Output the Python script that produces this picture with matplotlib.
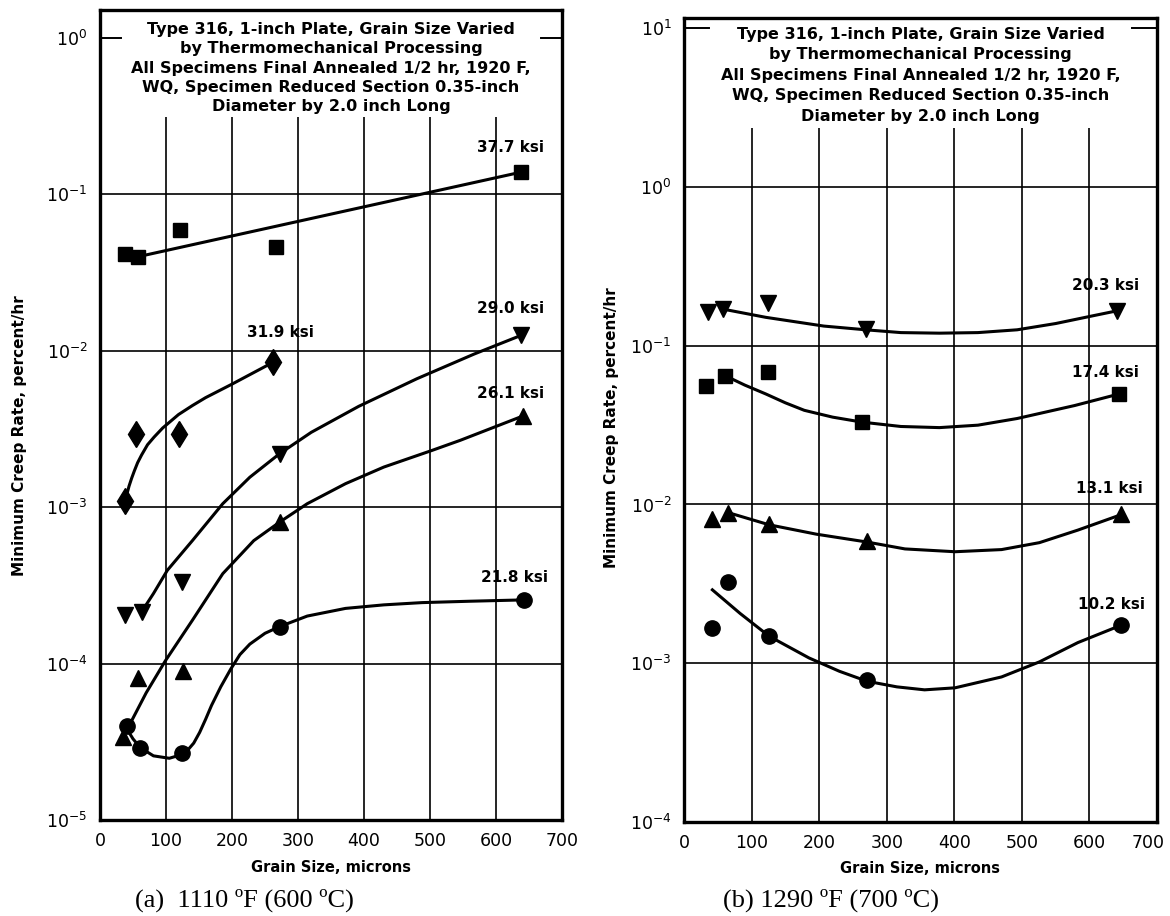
import numpy as np
import matplotlib
matplotlib.use("Agg")
import matplotlib.pyplot as plt
from matplotlib.transforms import blended_transform_factory, ScaledTranslation

# ---------------- data ----------------
x_grid = [100, 200, 300, 400, 500, 600]
x_ticks = [0, 100, 200, 300, 400, 500, 600, 700]

title_text = ("Type 316, 1-inch Plate, Grain Size Varied\n"
              "by Thermomechanical Processing\n"
              "All Specimens Final Annealed 1/2 hr, 1920 F,\n"
              "WQ, Specimen Reduced Section 0.35-inch\n"
              "Diameter by 2.0 inch Long")

# Panel (a) 1110 F (600 C)
a_377_x = [38, 58, 121, 266, 638]
a_377_y = [0.0414, 0.0398, 0.059, 0.0461, 0.138]
a_377_fx = [58, 638]
a_377_fy = [0.0398, 0.138]

a_319_x = [38, 55, 120, 262]
a_319_y = [1.1e-3, 2.95e-3, 2.95e-3, 8.4e-3]
a_319_fx = [38, 41, 44, 48, 52, 57, 63, 72, 82, 95, 119, 140, 160, 200,
            240, 262]
a_319_fy = [1.1e-3, 1.22e-3, 1.36e-3, 1.53e-3, 1.7e-3, 1.92e-3, 2.15e-3,
            2.5e-3, 2.8e-3, 3.2e-3, 3.9e-3, 4.45e-3, 5.0e-3, 6.1e-3,
            7.5e-3, 8.4e-3]

a_290_x = [38, 63, 124, 272, 638]
a_290_y = [2.04e-4, 2.14e-4, 3.32e-4, 2.19e-3, 0.0125]
a_290_fx = [63, 81, 102, 140, 186, 227, 272, 320, 392, 480, 567, 638]
a_290_fy = [2.14e-4, 2.8e-4, 3.94e-4, 6.1e-4, 1.05e-3, 1.55e-3, 2.19e-3,
            3.0e-3, 4.4e-3, 6.6e-3, 9.5e-3, 0.0125]

a_261_x = [35, 58, 125, 272, 641]
a_261_y = [3.37e-5, 8.1e-5, 8.97e-5, 8.0e-4, 3.82e-3]
a_261_fx = [44, 70, 99, 140, 186, 233, 272, 314, 372, 430, 503, 546, 641]
a_261_fy = [4.0e-5, 6.5e-5, 1.04e-4, 1.89e-4, 3.75e-4, 6.1e-4, 8.0e-4,
            1.05e-3, 1.41e-3, 1.8e-3, 2.3e-3, 2.67e-3, 3.82e-3]

a_218_x = [41, 61, 124, 272, 642]
a_218_y = [3.96e-5, 2.9e-5, 2.67e-5, 1.72e-4, 2.55e-4]
a_218_fx = [41, 50, 61, 81, 105, 124, 133, 142, 151, 160, 169, 183, 198,
            212, 227, 250, 272, 314, 372, 430, 488, 560, 642]
a_218_fy = [3.8e-5, 3.3e-5, 2.9e-5, 2.57e-5, 2.48e-5, 2.62e-5, 2.8e-5,
            3.1e-5, 3.63e-5, 4.4e-5, 5.4e-5, 7.1e-5, 9.2e-5, 1.14e-4,
            1.33e-4, 1.56e-4, 1.72e-4, 2.01e-4, 2.25e-4, 2.37e-4, 2.45e-4,
            2.5e-4, 2.55e-4]

a_labels = ["37.7 ksi", "31.9 ksi", "29.0 ksi", "26.1 ksi", "21.8 ksi"]
a_label_x = [622, 273, 622, 622, 628]
a_label_y = [0.198, 0.0131, 0.0185, 5.3e-3, 3.57e-4]

# Panel (b) 1290 F (700 C)
b_203_x = [35, 58, 124, 269, 641]
b_203_y = [0.162, 0.170, 0.187, 0.127, 0.166]
b_203_fx = [58, 121, 207, 269, 321, 378, 435, 493, 550, 607, 641]
b_203_fy = [0.170, 0.151, 0.133, 0.126, 0.121, 0.120, 0.121, 0.126,
            0.138, 0.155, 0.166]

b_174_x = [33, 61, 124, 264, 644]
b_174_y = [0.056, 0.0647, 0.068, 0.033, 0.0497]
b_174_fx = [61, 90, 121, 150, 178, 220, 264, 321, 378, 435, 493, 578, 644]
b_174_fy = [0.0647, 0.0565, 0.0497, 0.0437, 0.0392, 0.0355, 0.033,
            0.031, 0.0305, 0.0316, 0.0348, 0.042, 0.0497]

b_131_x = [42, 65, 126, 271, 646]
b_131_y = [8.1e-3, 8.9e-3, 7.55e-3, 5.9e-3, 8.7e-3]
b_131_fx = [65, 126, 196, 271, 327, 401, 470, 526, 583, 646]
b_131_fy = [8.9e-3, 7.45e-3, 6.5e-3, 5.8e-3, 5.25e-3, 5.04e-3, 5.2e-3,
            5.75e-3, 6.9e-3, 8.6e-3]

b_102_x = [42, 65, 126, 271, 646]
b_102_y = [1.67e-3, 3.23e-3, 1.48e-3, 7.85e-4, 1.73e-3]
b_102_fx = [42, 83, 126, 185, 230, 271, 315, 356, 401, 470, 526, 583, 646]
b_102_fy = [2.9e-3, 2.06e-3, 1.48e-3, 1.08e-3, 8.9e-4, 7.7e-4, 7.1e-4,
            6.8e-4, 7.0e-4, 8.2e-4, 1.02e-3, 1.35e-3, 1.73e-3]

b_labels = ["20.3 ksi", "17.4 ksi", "13.1 ksi", "10.2 ksi"]
b_label_x = [624, 624, 629, 632]
b_label_y = [0.238, 0.068, 0.0126, 2.36e-3]

captions = ["(a)  1110 \u00baF (600 \u00baC)", "(b) 1290 \u00baF (700 \u00baC)"]

# ---------------- figure ----------------
W, H = 1170, 916
fig = plt.figure(figsize=(W / 100, H / 100), dpi=100)
fig.patch.set_facecolor("white")

axA = fig.add_axes([100 / W, (H - 820) / H, 462 / W, 810 / H])
axB = fig.add_axes([684 / W, (H - 822) / H, 473 / W, 804 / H])


def setup(ax, ylo, yhi, decades, full_lines, top_tick, vtop, tick_len,
          title_y, title_ls, ylab_xy, xlab_y):
    ax.set_yscale("log")
    ax.set_xlim(0, 700)
    ax.set_ylim(ylo, yhi)
    ax.set_xticks(x_ticks)
    ax.set_xticklabels([str(v) for v in x_ticks])
    ax.set_yticks([10.0 ** d for d in decades])
    ax.set_yticklabels([r"$10^{%d}$" % d for d in decades])
    ax.minorticks_off()
    ax.tick_params(axis="both", length=0, labelsize=12.5)
    ax.tick_params(axis="y", pad=9)
    ax.tick_params(axis="x", pad=9)
    for s in ax.spines.values():
        s.set_linewidth(2.4)
    for d in full_lines:
        ax.axhline(10.0 ** d, color="black", lw=1.2, zorder=1)
    tr = blended_transform_factory(ax.transAxes, ax.transData)
    ax.plot([0, tick_len], [top_tick, top_tick], color="black", lw=1.4,
            transform=tr, clip_on=False)
    ax.plot([1 - tick_len, 1], [top_tick, top_tick], color="black", lw=1.4,
            transform=tr, clip_on=False)
    ax.vlines(x_grid, ylo, vtop, color="black", lw=1.2, zorder=1)
    ax.text(0.5, title_y, title_text, transform=ax.transAxes, ha="center",
            va="top", fontsize=11.5, fontweight="bold", linespacing=title_ls)
    ax.set_ylabel("Minimum Creep Rate, percent/hr", fontsize=11,
                  fontweight="bold")
    ax.yaxis.set_label_coords(*ylab_xy)
    ax.set_xlabel("Grain Size, microns", fontsize=10.5, fontweight="bold")
    ax.xaxis.set_label_coords(0.5, xlab_y)


setup(axA, 1e-5, 1.5, [-5, -4, -3, -2, -1, 0], [-4, -3, -2, -1], 1.0,
      0.31, 0.045, 1 - 12 / 810, 1.36, (-0.158, 0.475), -0.05)
setup(axB, 1e-4, 11.6, [-4, -3, -2, -1, 0, 1], [-3, -2, -1, 0], 10.0,
      2.36, 0.053, 1 - 9 / 804, 1.45, (-0.137, 0.49), -0.048)

# keep the last x tick label of panel (b) inside the picture
fig.canvas.draw()
lastlab = axB.get_xticklabels()[-1]
lastlab.set_transform(lastlab.get_transform() +
                      ScaledTranslation(-9 / 100, 0, fig.dpi_scale_trans))

LW = 2.2
mk = dict(color="black", linestyle="none", zorder=3)

# panel (a)
axA.plot(a_377_fx, a_377_fy, color="black", lw=LW, zorder=2)
axA.plot(a_377_x, a_377_y, marker="s", ms=10, **mk)
axA.plot(a_319_fx, a_319_fy, color="black", lw=LW, zorder=2)
axA.plot(a_319_x, a_319_y, marker="d", ms=13, **mk)
axA.plot(a_290_fx, a_290_fy, color="black", lw=LW, zorder=2)
axA.plot(a_290_x, a_290_y, marker="v", ms=11, **mk)
axA.plot(a_261_fx, a_261_fy, color="black", lw=LW, zorder=2)
axA.plot(a_261_x, a_261_y, marker="^", ms=11, **mk)
axA.plot(a_218_fx, a_218_fy, color="black", lw=LW, zorder=2)
axA.plot(a_218_x, a_218_y, marker="o", ms=11, **mk)
for t, x, y in zip(a_labels, a_label_x, a_label_y):
    axA.text(x, y, t, ha="center", va="center", fontsize=11,
             fontweight="bold")

# panel (b)
axB.plot(b_203_fx, b_203_fy, color="black", lw=LW, zorder=2)
axB.plot(b_203_x, b_203_y, marker="v", ms=11, **mk)
axB.plot(b_174_fx, b_174_fy, color="black", lw=LW, zorder=2)
axB.plot(b_174_x, b_174_y, marker="s", ms=10, **mk)
axB.plot(b_131_fx, b_131_fy, color="black", lw=LW, zorder=2)
axB.plot(b_131_x, b_131_y, marker="^", ms=11, **mk)
axB.plot(b_102_fx, b_102_fy, color="black", lw=LW, zorder=2)
axB.plot(b_102_x, b_102_y, marker="o", ms=11, **mk)
for t, x, y in zip(b_labels, b_label_x, b_label_y):
    axB.text(x, y, t, ha="center", va="center", fontsize=11,
             fontweight="bold")

fig.text(135 / W, (H - 907) / H, captions[0], fontsize=19,
         family="Liberation Serif", ha="left", va="baseline")
fig.text(723 / W, (H - 907) / H, captions[1], fontsize=19,
         family="Liberation Serif", ha="left", va="baseline")

fig.savefig("out.png", dpi=100, facecolor="white")
